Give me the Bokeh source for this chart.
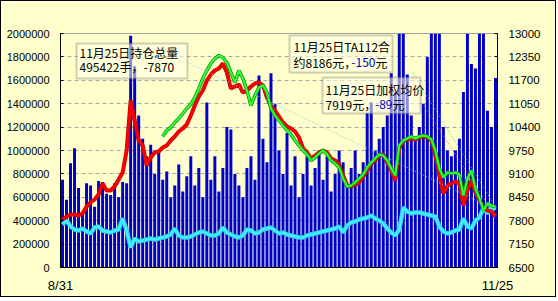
import numpy as np
from bokeh.plotting import figure
from bokeh.models import (Range1d, LinearAxis, FixedTicker, BasicTickFormatter,
                          Label, BoxAnnotation)
from bokeh.embed import file_html
from bokeh.resources import INLINE

# ---------------- data ----------------
date_first = "8/31"
date_last = "11/25"

# daily volume (手)
volume = [750000, 580000, 890000, 1020000, 680000, 450000, 720000, 700000, 520000, 740000,
          730000, 630000, 620000, 720000, 600000, 730000, 720000, 1980000, 1720000, 1300000,
          1100000, 950000, 1050000, 800000, 1000000, 750000, 820000, 600000, 700000, 880000,
          650000, 780000, 950000, 700000, 850000, 600000, 1410000, 750000, 950000, 650000,
          850000, 1200000, 1180000, 800000, 700000, 600000, 850000, 950000, 750000, 1640000,
          1100000, 900000, 1660000, 1400000, 1000000, 800000, 1150000, 700000, 950000, 600000,
          800000, 950000, 700000, 850000, 1000000, 750000, 950000, 650000, 800000, 1000000,
          900000, 700000, 850000, 1000000, 800000, 900000, 1320000, 1410000, 1000000, 1100000,
          1200000, 1300000, 1660000, 1500000, 2050000, 2050000, 1650000, 1300000, 1100000, 1200000,
          1400000, 1800000, 2050000, 2050000, 2050000, 1200000, 1000000, 950000, 1000000, 1100000,
          1500000, 2050000, 1740000, 1700000, 2050000, 2050000, 1340000, 1200000, 1620000]

# total open interest (手)
open_interest = [367500, 401700, 350400, 324800, 316200, 333300, 307700, 290600, 341900, 350400,
                 316200, 307700, 299100, 316200, 324800, 418800, 316200, 170900, 247900, 222200,
                 230800, 239300, 247900, 239300, 247900, 256400, 265000, 282100, 333300, 273500,
                 256400, 256400, 265000, 282100, 299100, 307700, 290600, 273500, 273500, 290600,
                 341900, 299100, 282100, 265000, 256400, 273500, 324800, 316200, 290600, 299100,
                 324800, 333300, 341900, 316200, 290600, 299100, 282100, 273500, 265000, 256400,
                 256400, 273500, 282100, 290600, 299100, 307700, 316200, 324800, 333300, 350400,
                 299100, 359000, 384600, 393200, 410300, 418800, 427400, 444400, 418800, 401700,
                 376100, 333300, 299100, 273500, 324800, 512800, 478600, 461500, 470100, 470100,
                 461500, 453000, 444400, 435900, 350400, 307700, 290600, 299100, 316200, 324800,
                 418800, 350400, 333300, 401700, 427400, 512800, 461500, 521400, 495422]

# weighted average price (元/吨)
avg_price = [7833, 7917, 7972, 7972, 7944, 8000, 8194, 8306, 8389, 8528,
             8833, 8639, 8639, 8750, 8944, 9139, 9750, 11139, 10583, 10028,
             9889, 9333, 9556, 9694, 9722, 9833, 9889, 10028, 10139, 10278,
             10361, 10472, 10722, 11000, 11250, 11417, 11694, 11861, 11972, 12028,
             12167, 11917, 11472, 11528, 11583, 11361, 11417, 11528, 11611, 11639,
             11556, 11222, 10972, 10861, 10694, 10528, 10417, 10361, 10278, 10111,
             9806, 9694, 9528, 9611, 9694, 9750, 9694, 9528, 9472, 9361,
             9056, 8778, 8750, 8806, 8861, 9028, 9194, 9389, 9472, 9611,
             9639, 9417, 9194, 8917, 9806, 10028, 10056, 10083, 10056, 10111,
             10139, 10111, 10028, 9611, 9056, 8556, 8778, 8833, 8889, 8833,
             8222, 8639, 8917, 8583, 8361, 8167, 8083, 8056, 7919]

# TA112 contract price (元/吨); listed from the 26th day
ta112_price = [np.nan] * 25 + [
             10139, 10306, 10389, 10528, 10639,
             10778, 10917, 11028, 11222, 11472, 11750, 11972, 12167, 12306, 12389,
             12333, 12194, 11917, 11639, 11972, 11750, 11417, 11000, 11278, 11500,
             11556, 11361, 10917, 10722, 10583, 10444, 10306, 10194, 10028, 9889,
             9750, 9639, 9472, 9556, 9667, 9750, 9639, 9472, 9389, 9278,
             8972, 8750, 8778, 8861, 8972, 9083, 9278, 9417, 9528, 9639,
             9611, 9472, 9250, 9056, 9889, 10028, 10083, 10139, 10083, 10139,
             10167, 10139, 10056, 9750, 9250, 9000, 9139, 9111, 9139, 9083,
             8500, 8972, 9194, 8694, 8417, 8083, 8278, 8222, 8186]

left_ticks = [0, 200000, 400000, 600000, 800000, 1000000, 1200000, 1400000,
              1600000, 1800000, 2000000]
right_ticks = [6500, 7150, 7800, 8450, 9100, 9750, 10400, 11050, 11700, 12350, 13000]

title_text = "郑商所PTA期货日交易情况"
left_unit = "吨"
right_unit = "元/吨"
box1_lines = ["11月25日持仓总量", "495422手，-7870"]
box2_lines = ["11月25日TA112合", "约8186元，", "-150", "元"]
box3_lines = ["11月25日加权均价", "7919元，", "-89", "元"]

# ---------------- styling ----------------
BG = "#FFFFCC"
BAR = "#0000CC"
CJK = "Noto Sans CJK SC"
NUM = "Liberation Sans"

n = len(volume)
x = np.arange(n) + 0.5
XMAX = float(n)
LMAX = 2000000.0
PMIN, PMAX = 6500.0, 13000.0

# page-pixel geometry of the plot frame (used only for placing annotations)
FL, FR, FT, FB = 60.0, 497.0, 33.0, 267.0


def px_x(X):
    return (X - FL) / (FR - FL) * XMAX


def px_left(Y):
    return (FB - Y) / (FB - FT) * LMAX


def px_price(Y):
    return PMIN + (FB - Y) / (FB - FT) * (PMAX - PMIN)


p = figure(width=556, height=297, output_backend="svg", toolbar_location=None,
           x_range=Range1d(0, XMAX), y_range=Range1d(0, LMAX),
           min_border_left=59, min_border_right=60, min_border_top=32, min_border_bottom=31,
           background_fill_color=BG, border_fill_color=BG)
p.styles = {"border": "1px solid #000000"}
p.outline_line_color = "#A0A0A0"
p.extra_y_ranges = {"price": Range1d(PMIN, PMAX)}

# axes
p.xaxis.ticker = FixedTicker(ticks=[0, n])
p.xaxis.major_label_overrides = {0: date_first, n: date_last}
p.xaxis.major_tick_in = 0
p.xaxis.major_tick_out = 0
p.xaxis.minor_tick_line_color = None
p.xaxis.axis_line_color = "#000000"
p.xaxis.major_label_standoff = 10
p.xaxis.major_label_text_font = NUM
p.xaxis.major_label_text_font_size = "13px"
p.xaxis.major_label_text_color = "#000000"

p.yaxis.ticker = FixedTicker(ticks=left_ticks)
p.yaxis.formatter = BasicTickFormatter(use_scientific=False)
p.yaxis.major_tick_in = 3
p.yaxis.major_tick_out = 0
p.yaxis.minor_tick_line_color = None
p.yaxis.axis_line_color = "#000000"
p.yaxis.major_label_standoff = 11
p.yaxis.major_label_text_font = NUM
p.yaxis.major_label_text_font_size = "11px"
p.yaxis.major_label_text_color = "#000000"

raxis = LinearAxis(y_range_name="price", ticker=FixedTicker(ticks=right_ticks))
raxis.major_tick_in = 3
raxis.major_tick_out = 0
raxis.minor_tick_line_color = None
raxis.axis_line_color = "#000000"
raxis.major_label_standoff = 11
raxis.major_label_text_font = NUM
raxis.major_label_text_font_size = "11.5px"
raxis.major_label_text_color = "#000000"
p.add_layout(raxis, "right")

p.xgrid.visible = False
p.ygrid.ticker = FixedTicker(ticks=left_ticks)
p.ygrid.grid_line_color = "#A8A8A8"
p.ygrid.grid_line_dash = "4 3"

# marks
p.vbar(x=x, top=volume, width=0.74, bottom=0, fill_color=BAR, line_color=None)
p.line(x=x, y=open_interest, line_color="#2CC8E8", line_width=4.5)
p.line(x=x, y=open_interest, line_color="#40F0F8", line_width=2.5)
p.line(x=x, y=avg_price, y_range_name="price", line_color="#C80000", line_width=4)
p.line(x=x, y=avg_price, y_range_name="price", line_color="#FF0000", line_width=2.5)
ta = np.array(ta112_price, dtype=float)
p.line(x=x, y=ta, y_range_name="price", line_color="#109010", line_width=3.5)
p.line(x=x, y=ta, y_range_name="price", line_color="#30FF30", line_width=2)

# leader lines from the note boxes to the last values
p.segment(x0=[px_x(187)], y0=[px_left(62)], x1=[x[-1]], y1=[open_interest[-1]],
          line_color="#70C8E0", line_width=1, line_dash="1 2")
p.segment(x0=[px_x(412)], y0=[px_price(72)], x1=[x[-1]], y1=[ta112_price[-1]],
          y_range_name="price", line_color="#60D060", line_width=1, line_dash="1 2")
p.segment(x0=[px_x(420)], y0=[px_price(100)], x1=[x[-1]], y1=[avg_price[-1]],
          y_range_name="price", line_color="#F06060", line_width=1, line_dash="1 2")


def note_box(X0, Y0, X1, Y1):
    p.add_layout(BoxAnnotation(left=px_x(X0), right=px_x(X1), top=px_left(Y0),
                               bottom=px_left(Y1), fill_color="#FFFFE8", fill_alpha=0.55,
                               line_color="#606060", line_width=2))


def txt(X, Y, s, color="#000000", size="12px", font=CJK, align="left", style="normal"):
    p.add_layout(Label(x=px_x(X), y=px_left(Y), text=s, text_color=color,
                       text_font=font, text_font_size=size, text_align=align,
                       text_baseline="middle", text_font_style=style))


note_box(76, 43, 187, 78)
txt(79, 52, box1_lines[0])
txt(79, 66, box1_lines[1])

note_box(289, 35, 392, 72)
txt(293, 46, box2_lines[0])
txt(293, 62, box2_lines[1])
txt(375, 62, box2_lines[2], color="#0000CC", align="right")
txt(375, 62, box2_lines[3])

note_box(322, 77, 420, 113)
txt(325, 89, box3_lines[0])
txt(325, 104, box3_lines[1])
txt(392, 104, box3_lines[2], color="#0000CC", align="right")
txt(392, 104, box3_lines[3])

txt(277, 18, title_text, color="#E00000", size="18px", align="center", style="bold")
txt(35, 16, left_unit, size="13px", align="center")
txt(508, 16, right_unit, size="13px", align="center")

open("out.html", "w").write(file_html(p, INLINE))
